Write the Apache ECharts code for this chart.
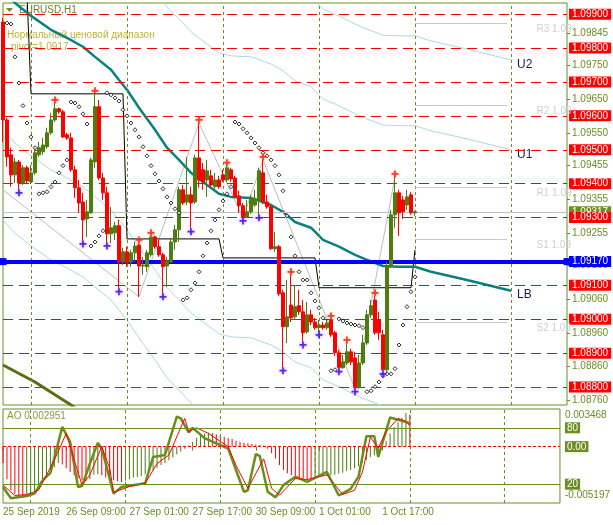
<!DOCTYPE html>
<html><head><meta charset="utf-8">
<script src="https://cdn.jsdelivr.net/npm/echarts@6/dist/echarts.min.js"></script>
<style>html,body{margin:0;padding:0;background:#fff}#c{width:613px;height:525px}</style>
</head><body><div id="c"></div>
<script>
// ---------- DATA ----------
const opens = [1.09877,1.09588,1.09485,1.09426,1.09464,1.09402,1.09447,1.09405,1.09432,1.09485,
1.09494,1.09509,1.09550,1.09588,1.09621,1.09612,1.09544,1.09535,1.09441,1.09388,
1.09346,1.09296,1.09314,1.09464,1.09627,1.09417,1.09373,1.09252,1.09255,1.09276,
1.09169,1.09199,1.09169,1.09196,1.09219,1.09157,1.09155,1.09190,1.09243,1.09214,
1.09190,1.09157,1.09169,1.09228,1.09264,1.09382,1.09346,1.09367,1.09346,1.09476,
1.09441,1.09411,1.09423,1.09391,1.09411,1.09426,1.09411,1.09441,1.09417,1.09364,
1.09335,1.09302,1.09317,1.09337,1.09352,1.09432,1.09346,1.09332,1.09208,1.09214,
1.09078,1.08978,1.09042,1.09007,1.09040,1.09022,1.08963,1.09013,1.08992,1.08975,
1.08983,1.08975,1.08998,1.08960,1.08901,1.08857,1.08871,1.08904,1.08886,1.08798,
1.08871,1.08930,1.09013,1.09057,1.08998,1.08954,1.08851,1.09155,1.09308,1.09373,
1.09352,1.09337,1.09367,1.09314];
const closes = [1.09588,1.09479,1.09426,1.09464,1.09402,1.09447,1.09408,1.09432,1.09491,1.09506,
1.09514,1.09550,1.09588,1.09621,1.09612,1.09538,1.09535,1.09441,1.09388,1.09343,
1.09293,1.09317,1.09470,1.09627,1.09417,1.09373,1.09252,1.09270,1.09276,1.09169,
1.09199,1.09166,1.09196,1.09216,1.09157,1.09160,1.09196,1.09243,1.09214,1.09190,
1.09155,1.09172,1.09228,1.09264,1.09382,1.09343,1.09367,1.09343,1.09476,1.09411,
1.09405,1.09438,1.09396,1.09411,1.09391,1.09411,1.09447,1.09414,1.09361,1.09335,
1.09299,1.09317,1.09358,1.09355,1.09438,1.09346,1.09332,1.09208,1.09214,1.09075,
1.08978,1.09007,1.09004,1.09037,1.09022,1.08960,1.09013,1.08992,1.08975,1.08983,
1.08975,1.08989,1.08954,1.08901,1.08857,1.08874,1.08904,1.08874,1.08798,1.08871,
1.08930,1.09013,1.09040,1.08960,1.08960,1.08851,1.09155,1.09308,1.09373,1.09314,
1.09317,1.09361,1.09314,1.09317];
const highs = [1.09889,1.09594,1.09506,1.09476,1.09470,1.09455,1.09453,1.09455,1.09509,1.09523,
1.09535,1.09565,1.09609,1.09638,1.09624,1.09618,1.09550,1.09550,1.09453,1.09411,
1.09373,1.09352,1.09476,1.09665,1.09647,1.09432,1.09391,1.09332,1.09287,1.09293,
1.09211,1.09214,1.09205,1.09228,1.09225,1.09184,1.09205,1.09246,1.09246,1.09234,
1.09196,1.09184,1.09237,1.09278,1.09391,1.09396,1.09479,1.09391,1.09485,1.09579,
1.09461,1.09470,1.09441,1.09432,1.09423,1.09441,1.09453,1.09447,1.09423,1.09379,
1.09343,1.09352,1.09367,1.09382,1.09447,1.09470,1.09367,1.09337,1.09258,1.09219,
1.09087,1.09116,1.09131,1.09101,1.09087,1.09057,1.09051,1.09028,1.09004,1.08998,
1.08992,1.08998,1.09001,1.08966,1.08910,1.08895,1.08930,1.08913,1.08904,1.08895,
1.08954,1.09028,1.09057,1.09069,1.09022,1.08969,1.09169,1.09323,1.09420,1.09382,
1.09364,1.09382,1.09376,1.09320];
const lows = [1.09523,1.09450,1.09391,1.09402,1.09382,1.09396,1.09402,1.09399,1.09426,1.09479,
1.09485,1.09503,1.09544,1.09582,1.09606,1.09535,1.09529,1.09435,1.09358,1.09314,
1.09231,1.09243,1.09311,1.09447,1.09411,1.09352,1.09225,1.09225,1.09234,1.09090,
1.09160,1.09155,1.09155,1.09169,1.09066,1.09131,1.09140,1.09184,1.09208,1.09184,
1.09075,1.09096,1.09166,1.09205,1.09228,1.09337,1.09337,1.09267,1.09340,1.09388,
1.09382,1.09361,1.09388,1.09382,1.09385,1.09405,1.09405,1.09405,1.09358,1.09314,
1.09299,1.09299,1.09311,1.09332,1.09308,1.09340,1.09326,1.09205,1.09199,1.09069,
1.08857,1.08930,1.08992,1.08998,1.09013,1.08933,1.08957,1.08983,1.08969,1.08963,
1.08969,1.08969,1.08948,1.08892,1.08854,1.08854,1.08865,1.08865,1.08795,1.08795,
1.08865,1.08924,1.09004,1.08954,1.08939,1.08848,1.08845,1.09152,1.09270,1.09246,
1.09296,1.09323,1.09308,1.09305];

const upFractalIdx = [13,23,34,37,49,56,65,72,82,86,93,98];
const downFractalIdx = [4,20,26,29,40,47,60,64,70,75,79,84,88,95];

const sar = [null,1.09874,1.09871,1.09774,1.09697,1.09630,1.09579,1.09538,1.09506,1.09370,
1.09373,1.09376,1.09391,1.09405,1.09432,1.09453,1.09470,1.09641,1.09638,1.09627,
1.09606,1.09576,1.09216,1.09228,1.09246,1.09261,1.09668,1.09662,1.09653,1.09644,
1.09618,1.09600,1.09579,1.09559,1.09538,1.09509,1.09482,1.09453,1.09429,1.09408,
1.09385,1.09361,1.09343,1.09326,1.09314,1.09057,1.09063,1.09087,1.09107,1.09140,
1.09187,1.09225,1.09261,1.09293,1.09323,1.09349,1.09370,1.09391,1.09582,1.09576,
1.09562,1.09550,1.09535,1.09520,1.09506,1.09491,1.09482,1.09470,1.09453,1.09426,
1.09379,1.09305,1.09243,1.09187,1.09140,1.09116,1.09116,1.09078,1.09054,1.09034,
1.09004,null,1.08848,1.08851,1.09001,1.08995,1.08989,1.08986,1.08983,1.08981,
1.08975,1.08786,1.08789,1.08801,1.08815,1.08833,1.08839,1.08839,1.08854,1.08924,
1.08983,1.09037,1.09081,1.09125];

// moving average (teal) and envelope lines, read at key bars
const maIdx  = [0,3,7,12,16,20,23,27,29,31,34,38,41,44,47,50,54,57,62,67,70,73,77,80,84,88,91,95,99,103,107,116,127];
const maVals = [1.09972,1.09933,1.09895,1.09854,1.09830,1.09804,1.09774,1.09736,1.09706,1.09677,1.09624,1.09559,1.09506,1.09470,1.09432,1.09405,1.09370,1.09361,1.09358,1.09337,1.09317,1.09287,1.09270,1.09234,1.09214,1.09190,1.09175,1.09157,1.09155,1.09155,1.09140,1.09116,1.09084];
const u1Vals = [1.10388,1.10349,1.10311,1.10270,1.10246,1.10220,1.10190,1.10152,1.10122,1.10093,1.10040,1.09975,1.09922,1.09886,1.09848,1.09821,1.09786,1.09777,1.09774,1.09753,1.09733,1.09703,1.09686,1.09650,1.09630,1.09606,1.09591,1.09573,1.09571,1.09571,1.09556,1.09532,1.09500];
const u2Idx  = [73,77,80,84,88,91,95,99,103,107,116,127];
const u2Vals = [1.09968,1.09951,1.09915,1.09895,1.09871,1.09856,1.09838,1.09836,1.09836,1.09821,1.09797,1.09765];
const l1Idx  = [0,3,7,12,16,20,23,27,29,31,34,38,41,44,47,50,54,57,62,67,70,73,77,80,84,88,91,95];
const l1Vals = [1.09559,1.09520,1.09482,1.09441,1.09417,1.09391,1.09361,1.09323,1.09293,1.09264,1.09211,1.09146,1.09093,1.09057,1.09019,1.08992,1.08957,1.08948,1.08945,1.08924,1.08904,1.08874,1.08857,1.08821,1.08801,1.08777,1.08762,1.08744];
const l2Idx  = [0,3,7,12,16,20,23,27,29,31,34,38,41,44,47,50];
const l2Vals = [1.09293,1.09254,1.09216,1.09175,1.09151,1.09125,1.09095,1.09057,1.09027,1.08998,1.08945,1.08880,1.08827,1.08791,1.08753,1.08726];

const slowIdx  = [0,8,17,19];
const slowVals = [1.08865,1.08815,1.08747,1.08730];

const zigIdx  = [0,34,49,60,65,88,98];
const zigVals = [1.09382,1.09066,1.09579,1.09299,1.09470,1.08795,1.09420];

const dayStarts = [0,7,31,55,79,103];
const channelLevels = [1.09960,1.09665,1.09237,1.09181,1.09093,1.09205];

const roundLevels = [1.099,1.098,1.097,1.096,1.095,1.094,1.093,1.091,1.090,1.089,1.088];
const pivotValue = 1.0917;
const pivotNames = ['R3 1.09','R2 1.09','R1 1.09','S1 1.09','S2 1.08'];
const pivotLevels = [1.09874,1.09630,1.09388,1.09237,1.08992];

const priceTicks = [1.08760,1.08860,1.08960,1.09060,1.09160,1.09255,1.09355,1.09455,1.09550,1.09650,1.09750,1.09845];
const timeLabels = ['25 Sep 2019','26 Sep 09:00','27 Sep 01:00','27 Sep 17:00','30 Sep 09:00','1 Oct 01:00','1 Oct 17:00'];
const separators = [7,31,55,79,103,127];

const ao = [-0.00150,-0.00300,-0.00400,-0.00435,-0.00460,-0.00470,-0.00460,-0.00440,-0.00410,-0.00375,
-0.00335,-0.00290,-0.00240,-0.00190,-0.00150,-0.00165,-0.00200,-0.00235,-0.00265,-0.00290,
-0.00310,-0.00320,-0.00300,-0.00260,-0.00255,-0.00265,-0.00285,-0.00300,-0.00310,-0.00320,
-0.00325,-0.00315,-0.00300,-0.00285,-0.00280,-0.00270,-0.00255,-0.00235,-0.00215,-0.00195,
-0.00170,-0.00150,-0.00125,-0.00100,-0.00070,-0.00045,-0.00020,0.00010,0.00045,0.00080,
0.00105,0.00120,0.00130,0.00125,0.00115,0.00100,0.00090,0.00080,0.00070,0.00055,
0.00045,0.00035,0.00030,0.00025,0.00020,0.00015,0.00010,-0.00020,-0.00060,-0.00110,
-0.00170,-0.00215,-0.00245,-0.00265,-0.00280,-0.00290,-0.00295,-0.00300,-0.00302,-0.00290,
-0.00280,-0.00275,-0.00270,-0.00265,-0.00260,-0.00250,-0.00240,-0.00225,-0.00215,-0.00200,
-0.00180,-0.00150,-0.00120,-0.00095,-0.00080,-0.00060,-0.00020,0.00050,0.00120,0.00180,
0.00225,0.00265,0.00310,0.00295];
const aoMax = 0.003468, aoMin = -0.005197, aoCurrent = '0.002951';

const stochIdx  = [0,2,6,8,10,12,13,15,17,19,20,22,24,25,28,30,36,38,41,44,45,47,48,51,57,61,62,64,65,67,69,71,74,77,82,85,88,90,92,94,95,98,100,103];
const stochVals = [17,5,7.5,10,24,32,48,81,65,17,18,42,64,58,10,17,21,49,51,92,90,75,80,69,58,12,13.6,52,50,12,6,19,28,22.5,33,8,15,28,71,71,49,91,88.5,85];
const sigIdx  = [0,3,6,9,13,16,18,20,22,25,27,28,32,36,39,42,46,47,49,52,57,59,62,66,68,70,74,77,82,86,89,91,93,95,97,100,102,103];
const sigVals = [19,8,9,13.6,45.7,74,46,19,30,60,37,11.5,17.5,21,42,51,90,76,80,74,60,40,15.6,47,15.6,8.2,26,25,30,9,13.6,33,70,58.5,76,90,87,82];
const stochLevels = [20,80];

// ---------- BUILD ----------
const N = 142;
const cats = Array.from({length:N},(_,i)=>String(i));
const olive = '#6b8e23', green = '#4d7c0f', red = '#ff0000';
const FONT = 'Liberation Sans';
const pairs = (idx, vals) => idx.map((i,k)=>[i, vals[k]]);

const candleData = opens.map((o,i)=>[o, closes[i], lows[i], highs[i]]);
const channel = [];
for (let d=0; d<dayStarts.length; d++) {
  const end = d+1<dayStarts.length ? dayStarts[d+1] : opens.length;
  for (let i=dayStarts[d]; i<end; i++) channel.push([i, channelLevels[d]]);
}
const sarData = sar.map((v,i)=>v==null?null:[i,v]).filter(Boolean);
const plus = 'path://M3,0H5V3H8V5H5V8H3V5H0V3H3Z';
const aoData = ao.map((v,i)=>({value:[i,v], itemStyle:{color: (i>0 && v>ao[i-1]) ? green : red}}));
const lastClose = closes[closes.length-1];

const sepLine = (xi, yi) => ({
  type:'line', xAxisIndex:xi, yAxisIndex:yi, data:[], silent:true, z:1,
  markLine:{symbol:'none', silent:true, animation:false, precision:0, label:{show:false},
    lineStyle:{color:olive, type:[3,3], width:1},
    data: separators.map(s=>({xAxis:s}))}
});
const navyLabel = (txt, dy) => ({show:true, formatter:txt, color:'#1a1a50', fontSize:12, fontFamily:FONT, distance:6, offset:[0,dy]});

const option = {
  animation:false,
  backgroundColor:'#fff',
  textStyle:{fontFamily:FONT},
  grid:[
    {left:3, right:46, top:3, height:402, show:true, borderColor:olive, borderWidth:1, backgroundColor:'#fff'},
    {left:3, right:46, top:409, height:94, show:true, borderColor:olive, borderWidth:1, backgroundColor:'#fff'}
  ],
  xAxis:[
    {type:'category', gridIndex:0, data:cats, boundaryGap:false, show:false},
    {type:'category', gridIndex:1, data:cats, boundaryGap:false,
      axisLine:{show:false},
      axisTick:{show:true, interval:(i)=>i%16===0 && i<=96, length:4, lineStyle:{color:olive}},
      axisLabel:{interval:(i)=>i%16===0 && i<=96, formatter:(v,i)=>timeLabels[Math.round(i/16)]||'',
        align:'left', color:olive, fontSize:10, fontFamily:FONT, margin:4},
      splitLine:{show:false}}
  ],
  yAxis:[
    {type:'value', gridIndex:0, position:'right', min:1.08747, max:1.09933,
      splitLine:{show:false}, axisLine:{show:false},
      axisTick:{show:true, customValues:priceTicks, length:3, lineStyle:{color:olive}},
      axisLabel:{customValues:priceTicks, formatter:v=>v.toFixed(5), color:olive, fontSize:10, fontFamily:FONT, margin:5}},
    {type:'value', gridIndex:1, position:'right', min:aoMin, max:aoMax,
      splitLine:{show:false}, axisLine:{show:false}, axisTick:{show:false},
      axisLabel:{customValues:[aoMax,0,aoMin], fontSize:10, fontFamily:FONT, margin:5, color:olive,
        formatter:v=> v===aoMax ? '{t|'+aoMax.toFixed(6)+'}' : (v===aoMin ? '{b|'+aoMin.toFixed(6)+'}' : '{z|0.00}'),
        rich:{t:{padding:[12,0,0,0], color:olive, fontSize:10}, b:{padding:[0,0,16,0], color:olive, fontSize:10},
              z:{backgroundColor:olive, color:'#fff', padding:[1,2,0,2], fontSize:10}}}},
    {type:'value', gridIndex:1, position:'right', min:0, max:100,
      splitLine:{show:false}, axisLine:{show:false}, axisTick:{show:false},
      axisLabel:{customValues:stochLevels, fontSize:10, fontFamily:FONT, margin:5,
        formatter:v=>'{z|'+v+'}', rich:{z:{backgroundColor:olive, color:'#fff', padding:[1,2,0,2], fontSize:10}}}}
  ],
  graphic:[
    {type:'polygon', shape:{points:[[6,8],[13,8],[9.5,12]]}, style:{fill:olive}},
    {type:'text', left:19, top:5, style:{text:'EURUSD,H1', fill:'#6f7f33', font:'10px "Liberation Sans"'}},
    {type:'text', left:7, top:30, style:{text:'Нормальный ценовой диапазон', fill:'#c2b23a', font:'10px "Liberation Sans"', textShadowColor:'rgba(20,30,90,0.55)', textShadowOffsetX:1, textShadowOffsetY:1}},
    {type:'text', left:11, top:42, style:{text:'pivot='+pivotValue.toFixed(4), fill:'#c2b23a', font:'10px "Liberation Sans"', textShadowColor:'rgba(20,30,90,0.55)', textShadowOffsetX:1, textShadowOffsetY:1}},
    {type:'text', left:7, top:411, style:{text:'AO '+aoCurrent, fill:'#8a9a3a', font:'10px "Liberation Sans"'}}
  ],
  series:[
    sepLine(0,0),
    {type:'line', name:'L2', xAxisIndex:0, yAxisIndex:0, data:pairs(l2Idx,l2Vals), symbol:'none', z:1, lineStyle:{color:'#a8dbe3', width:1}},
    {type:'line', name:'L1', xAxisIndex:0, yAxisIndex:0, data:pairs(l1Idx,l1Vals), symbol:'none', z:1, lineStyle:{color:'#a8dbe3', width:1}},
    {type:'line', name:'U1', xAxisIndex:0, yAxisIndex:0, data:pairs(maIdx,u1Vals), symbol:'none', z:1, lineStyle:{color:'#a8dbe3', width:1},
      endLabel:navyLabel('U1',5)},
    {type:'line', name:'U2', xAxisIndex:0, yAxisIndex:0, data:pairs(u2Idx,u2Vals), symbol:'none', z:1, lineStyle:{color:'#a8dbe3', width:1},
      endLabel:navyLabel('U2',5)},
    {type:'line', name:'zig', xAxisIndex:0, yAxisIndex:0, data:pairs(zigIdx,zigVals), symbol:'none', z:1, lineStyle:{color:'#bdbdbd', width:1}},
    {type:'line', name:'pivots', xAxisIndex:0, yAxisIndex:0, data:[], z:2,
      markLine:{symbol:'none', silent:true, precision:5, label:{show:false}, lineStyle:{color:'#c8c8c8', type:'solid', width:1},
        data: pivotLevels.map(v=>[{coord:[103,v]},{coord:[126,v]}])},
      markPoint:{symbol:'circle', symbolSize:1, itemStyle:{color:'rgba(0,0,0,0)'},
        label:{show:true, position:'right', distance:0, offset:[-3,6], color:'#cfcfcf', fontSize:10, fontFamily:FONT, formatter:p=>p.name},
        data: pivotLevels.map((v,k)=>({name:pivotNames[k], coord:[134,v]}))}},
    {type:'line', name:'channel', xAxisIndex:0, yAxisIndex:0, data:channel, symbol:'none', z:2, lineStyle:{color:'#000', width:1}},
    {type:'line', name:'slow', xAxisIndex:0, yAxisIndex:0, data:pairs(slowIdx,slowVals), symbol:'none', z:2, lineStyle:{color:'#5a6e12', width:3}},
    {type:'line', name:'ma', xAxisIndex:0, yAxisIndex:0, data:pairs(maIdx,maVals), symbol:'none', z:3, lineStyle:{color:'#0b8080', width:2.5},
      endLabel:navyLabel('LB',4)},
    {type:'line', name:'current', xAxisIndex:0, yAxisIndex:0, data:[], z:3,
      markLine:{symbol:'none', silent:true, precision:5, lineStyle:{color:'#c0c0c0', type:'solid', width:1},
        label:{show:true, position:'end', distance:2, backgroundColor:olive, color:'#fff', padding:[1,3,0,3], fontSize:10, fontFamily:FONT, formatter:lastClose.toFixed(5)},
        data:[{yAxis:lastClose}]}},
    {type:'line', name:'levels', xAxisIndex:0, yAxisIndex:0, data:[], z:4,
      markLine:{symbol:'none', silent:true, precision:5, lineStyle:{color:red, type:[10,6], width:1},
        label:{show:true, position:'end', distance:2, backgroundColor:red, color:'#fff', padding:[1,3,0,3], fontSize:10, fontFamily:FONT},
        data: roundLevels.map(v=>({yAxis:v, label:{formatter:v.toFixed(5)}}))}},
    {type:'candlestick', name:'EURUSD', xAxisIndex:0, yAxisIndex:0, data:candleData, barWidth:3, z:5,
      itemStyle:{color:green, color0:red, borderColor:green, borderColor0:red, borderWidth:1}},
    {type:'line', name:'pivot', xAxisIndex:0, yAxisIndex:0, data:[], z:7,
      markLine:{symbol:['rect','rect'], symbolSize:7, silent:true, precision:5, lineStyle:{color:'#0000ff', type:'solid', width:4},
        label:{show:true, position:'end', distance:2, backgroundColor:'#0000ff', color:'#fff', padding:[1,3,0,3], fontSize:10, fontFamily:FONT, formatter:pivotValue.toFixed(5)},
        data:[{yAxis:pivotValue}]}},
    {type:'scatter', name:'sar', xAxisIndex:0, yAxisIndex:0, data:sarData, symbol:'diamond', symbolSize:4, z:6,
      itemStyle:{color:'#fff', borderColor:'#000', borderWidth:1}},
    {type:'scatter', name:'fup', xAxisIndex:0, yAxisIndex:0, data:upFractalIdx.map(i=>[i,highs[i]]), symbol:plus, symbolSize:7, symbolOffset:[0,-3], z:6,
      itemStyle:{color:'#ff1010', shadowColor:'#ffa040', shadowBlur:3}},
    {type:'scatter', name:'fdn', xAxisIndex:0, yAxisIndex:0, data:downFractalIdx.map(i=>[i,lows[i]]), symbol:plus, symbolSize:7, symbolOffset:[0,3], z:6,
      itemStyle:{color:'#1010ff', shadowColor:'#ff60ff', shadowBlur:3}},

    // ---- lower panel ----
    sepLine(1,1),
    {type:'bar', name:'AO', xAxisIndex:1, yAxisIndex:1, data:aoData, barWidth:1, z:2,
      markLine:{symbol:'none', silent:true, precision:6, label:{show:false}, lineStyle:{color:red, type:[3,2], width:1}, data:[{yAxis:0}]}},
    {type:'line', name:'stochLevels', xAxisIndex:1, yAxisIndex:2, data:[], z:2,
      markLine:{symbol:'none', silent:true, precision:2, label:{show:false}, lineStyle:{color:olive, type:'solid', width:1},
        data: stochLevels.map(v=>({yAxis:v}))}},
    {type:'line', name:'signal', xAxisIndex:1, yAxisIndex:2, data:pairs(sigIdx,sigVals), symbol:'none', z:4, lineStyle:{color:red, width:1}},
    {type:'line', name:'stoch', xAxisIndex:1, yAxisIndex:2, data:pairs(stochIdx,stochVals), symbol:'none', z:3, lineStyle:{color:'#6b8e1a', width:2.5}}
  ]
};
const chart = echarts.init(document.getElementById('c'), null, {renderer:'canvas'});
chart.setOption(option);
</script>
</body></html>
